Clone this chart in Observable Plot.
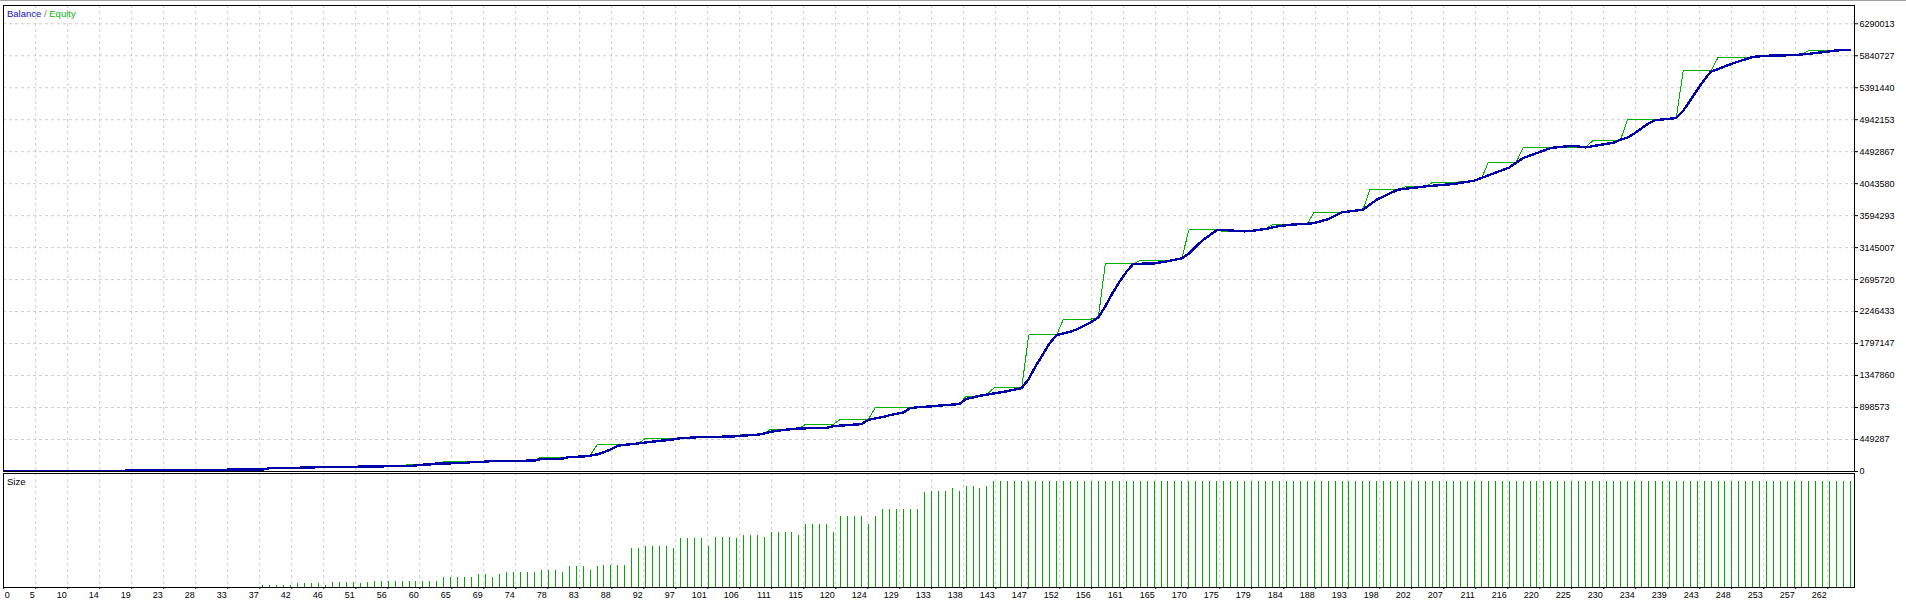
<!DOCTYPE html>
<html><head><meta charset="utf-8">
<script src="https://cdn.jsdelivr.net/npm/d3@7"></script>
<script src="https://cdn.jsdelivr.net/npm/@observablehq/plot@0.6"></script>
<style>
html,body{margin:0;padding:0;background:#fff;}
#wrap{position:relative;width:1906px;height:603px;overflow:hidden;font-family:"Liberation Sans",Arial,sans-serif;}
#topline{position:absolute;left:0;top:0;width:1906px;height:1px;background:#a0a0a0;}
#main{position:absolute;left:0;top:0;}
#sub{position:absolute;left:0;top:472px;}
.lbl{position:absolute;font-size:9.5px;line-height:1;white-space:pre;}
</style></head><body>
<div id="wrap"><div id="main"></div><div id="sub"></div><div id="topline"></div>
<div class="lbl" style="left:7px;top:9px"><span style="color:#1010c0">Balance</span><span style="color:#707070"> / </span><span style="color:#10b010">Equity</span></div>
<div class="lbl" style="left:7px;top:477px;color:#000">Size</div>
</div>
<script>
// ---- data ----
const balanceTrade = [0,31,32,37,38,42,43,50,51,58,59,60,61,62,66,67,69,70,76,77,80,81,83,84,85,86,87,88,89,90,91,92,93,94,95,96,97,99,100,102,105,106,108,109,110,111,112,114,118,119,121,123,124,125,126,127,128,129,130,131,133,134,136,137,138,139,140,141,142,144,146,147,148,149,150,151,152,153,154,155,156,157,158,159,160,161,162,165,167,169,170,171,172,173,174,175,178,179,181,183,185,187,188,190,192,195,197,200,204,208,211,213,216,218,222,225,227,231,232,233,234,235,236,237,240,241,242,243,244,245,246,248,251,253,257,259,261,263,265];
const balanceValue = [10000,12000,26000,28000,46000,50000,58000,62000,70000,76000,86000,96000,100000,112000,118000,134000,138000,150000,152000,176000,180000,204000,210000,222000,240000,272000,312000,361000,375000,385000,395000,408000,420000,430000,440000,452000,468000,478000,488000,486000,495000,505000,516000,534000,560000,574000,586000,605000,612000,638000,652000,666000,727000,745000,765000,790000,810000,829000,891000,902000,915000,925000,940000,947000,1018000,1040000,1064000,1080000,1097000,1130000,1172000,1300000,1480000,1640000,1800000,1918000,1940000,1965000,2000000,2050000,2100000,2165000,2320000,2500000,2660000,2800000,2916000,2924000,2955000,2995000,3060000,3160000,3250000,3320000,3390000,3392000,3374000,3380000,3407000,3450000,3470000,3480000,3490000,3545000,3641000,3679000,3820000,3959000,4006000,4039000,4086000,4160000,4270000,4404000,4545000,4577000,4554000,4620000,4662000,4690000,4750000,4820000,4890000,4935000,4966000,5070000,5210000,5360000,5500000,5621000,5653000,5730000,5825000,5841000,5850000,5868000,5890000,5916000,5924000];

const equityTrade = [0,31,32,37,38,42,43,50,51,57,58,60,61,62,63,66,67,69,70,76,77,80,81,84,85,88,89,91,92,97,99,100,102,105,106,108,109,110,113,114,115,119,120,123,124,125,130,131,133,134,136,137,138,140,141,142,146,147,151,152,156,157,158,162,163,167,169,170,174,175,178,179,181,182,184,185,187,188,192,195,196,200,201,204,205,208,211,212,213,217,218,222,225,227,228,231,232,233,237,240,241,245,246,250,251,253,257,258,259,262,263,265];
const equityValue = [10000,12000,26000,28000,46000,50000,58000,62000,70000,76000,104000,104000,104000,112000,136000,136000,134000,138000,150000,152000,202000,202000,204000,222000,375000,375000,375000,395000,469000,469000,478000,488000,486000,495000,525000,525000,534000,596000,596000,605000,666000,666000,737000,737000,737000,900000,900000,902000,915000,925000,940000,947000,1054000,1064000,1080000,1175000,1175000,1918000,1918000,2142000,2142000,2165000,2916000,2916000,2962000,2962000,2995000,3394000,3394000,3370000,3366000,3380000,3407000,3468000,3468000,3470000,3480000,3641000,3641000,3679000,3959000,3959000,3997000,4006000,4062000,4062000,4086000,4110000,4343000,4343000,4545000,4545000,4554000,4554000,4647000,4647000,4662000,4942000,4942000,4966000,5630000,5630000,5817000,5817000,5825000,5841000,5850000,5858000,5912000,5912000,5916000,5924000];

// lot sizes of trades 37 .. 265 (relative units)
const sizeFirstTrade = 37;
const sizeValue = [
 2,2,2,2,2, 4,4,4,4, 2, 5,5,5,5, 4, 5,
 6,6,6,6,6,6,6,6,6,6, 10,10,10,10,10, 13,13, 10, 13,
 15,15,15,15,15, 17,17,17, 15, 21,21,21, 17, 21, 22,22,22,22,
 39,39, 41,41,41,41, 39, 49,49,49,49, 41, 50,50,50, 49, 52,52,52, 50,
 55,55,55,55, 52, 63,63,63,63, 55, 71,71,71,71, 63, 71, 78,78,78,78,78,78,
 95, 96,96,96, 99, 96, 101,101, 99, 101,
 106,106,106,106,106,106,106,106,106,106,106,106,106,106,106,106,106,106,106,106,
 106,106,106,106,106,106,106,106,106,106,106,106,106,106,106,106,106,106,106,106,
 106,106,106,106,106,106,106,106,106,106,106,106,106,106,106,106,106,106,106,106,
 106,106,106,106,106,106,106,106,106,106,106,106,106,106,106,106,106,106,106,106,
 106,106,106,106,106,106,106,106,106,106,106,106,106,106,106,106,106,106,106,106,
 106,106,106,106,106,106,106,106,106,106,106,106,106,106,106,106,106,106,106,106,
 106,106,106,106
];

const xTickLabels = [0,5,10,14,19,23,28,33,37,42,46,51,56,60,65,69,74,78,83,88,92,97,101,106,111,115,120,124,129,133,138,143,147,152,156,161,165,170,175,179,184,188,193,198,202,207,211,216,220,225,230,234,239,243,248,253,257,262];
const yTickLabels = ["6290013","5840727","5391440","4942153","4492867","4043580","3594293","3145007","2695720","2246433","1797147","1347860","898573","449287","0"];

// ---- scale settings ----
const X_DOMAIN = [-0.24, 265.6];
const GRID_ORIGIN = -0.2, GRID_STEP = 4.5957;
const Y_MAX = 6547000;
const SIZE_MAX = 114;

const balance = balanceTrade.map((t, i) => ({t, v: balanceValue[i]}));
const equity = equityTrade.map((t, i) => ({t, v: equityValue[i]}));
const sizes = sizeValue.map((s, i) => ({t: sizeFirstTrade + i, s}));
const xTicks = xTickLabels.map((label, k) => ({pos: GRID_ORIGIN + k * GRID_STEP, label}));
const xGrid = xTicks.map(d => d.pos);
const yTickValues = yTickLabels.map(Number);

const GRID = {stroke: "#cccccc", strokeOpacity: 1, strokeDasharray: "3,3"};
const FONT = {fontFamily: "Liberation Sans, Arial, sans-serif", fontSize: "9px", color: "#000", background: "transparent", overflow: "visible"};

const main = Plot.plot({
  width: 1906, height: 472,
  marginTop: 5, marginBottom: 1, marginLeft: 3, marginRight: 52,
  style: FONT,
  x: {domain: X_DOMAIN, axis: null},
  y: {domain: [0, Y_MAX], axis: null},
  marks: [
    Plot.ruleX(xGrid.slice(1), GRID),
    Plot.ruleY(yTickValues.filter(v => v > 0), GRID),
    Plot.line(equity, {x: "t", y: "v", stroke: "#00b000", strokeWidth: 1, shapeRendering: "crispEdges"}),
    Plot.line(balance, {x: "t", y: "v", stroke: "#0000aa", strokeWidth: 2.4, shapeRendering: "crispEdges"}),
    Plot.axisY({anchor: "right", ticks: yTickValues, tickFormat: d => String(d), tickSize: 3, tickPadding: 2, label: null, fontSize: 9}),
    Plot.frame({stroke: "#000"})
  ]
});
document.getElementById("main").appendChild(main);

const sub = Plot.plot({
  width: 1906, height: 131,
  marginTop: 1, marginBottom: 16, marginLeft: 3, marginRight: 52,
  style: FONT,
  x: {domain: X_DOMAIN, axis: null},
  y: {domain: [0, SIZE_MAX], axis: null},
  marks: [
    Plot.ruleX(xGrid.slice(1), GRID),
    Plot.ruleX(sizes, {x: "t", y1: 0, y2: "s", stroke: "#00aa00", strokeWidth: 1, shapeRendering: "crispEdges"}),
    Plot.frame({stroke: "#000"}),
    Plot.axisX({anchor: "bottom", ticks: xGrid, tickSize: 2, tickFormat: () => "", label: null}),
    Plot.text(xTicks.slice(0, 1), {x: "pos", text: d => String(d.label), frameAnchor: "bottom", lineAnchor: "top", textAnchor: "start", dx: 1, dy: 4, fontSize: 9}),
    Plot.text(xTicks.slice(1), {x: "pos", text: d => String(d.label), frameAnchor: "bottom", lineAnchor: "top", textAnchor: "end", dx: -1, dy: 4, fontSize: 9})
  ]
});
document.getElementById("sub").appendChild(sub);
</script>
</body></html>
